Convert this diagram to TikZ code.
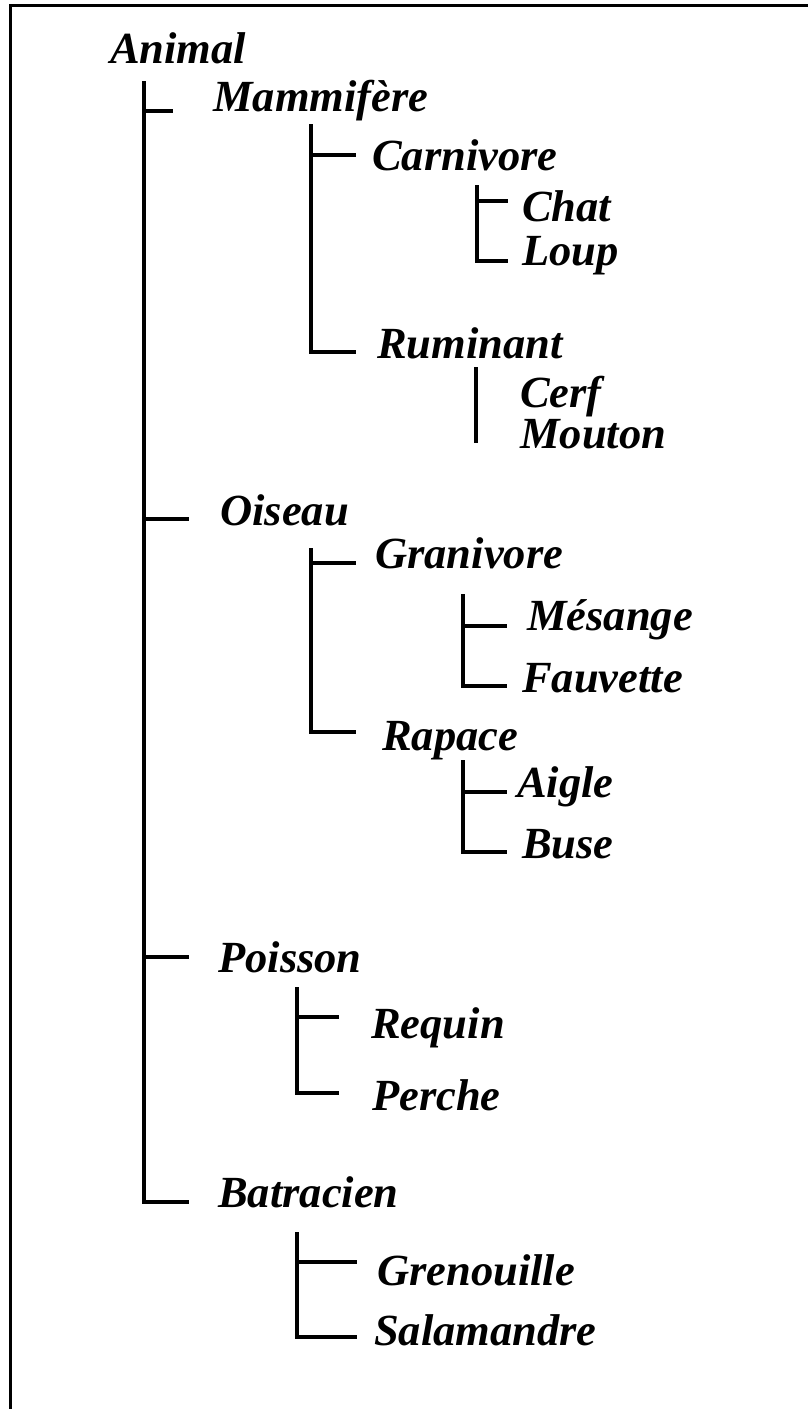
\documentclass[tikz,border=0pt]{standalone}
\usepackage{fontspec}
\setmainfont{Liberation Serif}
\begin{document}
\begin{tikzpicture}[x=1pt,y=-1pt,
  lbl/.style={anchor=base west,inner sep=0pt,font=\fontsize{44.5}{50}\selectfont\bfseries\itshape},
  tree/.style={line width=3.2pt,line cap=butt,line join=miter},
  frame/.style={line width=3.5pt}]
\useasboundingbox (0,0) rectangle (808,1409);
% frame (top and left)
\coordinate (fTR) at (808,5.5);
\coordinate (fTL) at (10.5,5.5);
\coordinate (fBL) at (10.5,1409);
\draw[frame] (fTR) -- (fTL) -- (fBL);

% labels
\node[lbl] (animal) at (110,63) {Animal};
\node[lbl] (mam) at (213,111) {Mammifère};
\node[lbl] (carn) at (372,170) {Carnivore};
\node[lbl] (chat) at (522,221) {Chat};
\node[lbl] (loup) at (522,265) {Loup};
\node[lbl] (rum) at (377,358) {Ruminant};
\node[lbl] (cerf) at (520,407) {Cerf};
\node[lbl] (mouton) at (520,448) {Mouton};
\node[lbl] (ois) at (220,525) {Oiseau};
\node[lbl] (gran) at (375,568) {Granivore};
\node[lbl] (mes) at (527,630) {Mésange};
\node[lbl] (fauv) at (522,692) {Fauvette};
\node[lbl] (rap) at (382,750) {Rapace};
\node[lbl] (aigle) at (517,797) {Aigle};
\node[lbl] (buse) at (522,858) {Buse};
\node[lbl] (poiss) at (218,972) {Poisson};
\node[lbl] (req) at (371,1038) {Requin};
\node[lbl] (perche) at (372,1110) {Perche};
\node[lbl] (batr) at (218,1207) {Batracien};
\node[lbl] (gren) at (377,1285) {Grenouille};
\node[lbl] (sal) at (374,1345) {Salamandre};

% tree coordinates
\coordinate (aTop) at (144,81);
\coordinate (tMam) at (173,111);
\coordinate (tOis) at (189,519);
\coordinate (tPoi) at (189,957);
\coordinate (tBat) at (189,1202);

\coordinate (mTop) at (311,124);
\coordinate (tCarn) at (356,155);
\coordinate (tRum) at (356,352);

\coordinate (cTop) at (477,185);
\coordinate (tChat) at (508,201);
\coordinate (tLoup) at (508,261);

\coordinate (rTop) at (476,367);
\coordinate (rBot) at (476,443);

\coordinate (oTop) at (311,548);
\coordinate (tGran) at (356,563);
\coordinate (tRap) at (356,732);

\coordinate (gTop) at (463,594);
\coordinate (tMes) at (507,626);
\coordinate (tFauv) at (507,686);

\coordinate (raTop) at (463,760);
\coordinate (tAigle) at (507,792);
\coordinate (tBuse) at (507,852);

\coordinate (pTop) at (297,987);
\coordinate (tReq) at (339,1017);
\coordinate (tPerche) at (339,1093);

\coordinate (bTop) at (297,1232);
\coordinate (tGren) at (357,1262);
\coordinate (tSal) at (357,1337);

% connectors
\draw[tree] (aTop) |- (tBat);
\draw[tree] (aTop |- tMam) -- (tMam);
\draw[tree] (aTop |- tOis) -- (tOis);
\draw[tree] (aTop |- tPoi) -- (tPoi);

\draw[tree] (mTop) |- (tRum);
\draw[tree] (mTop |- tCarn) -- (tCarn);

\draw[tree] (cTop) |- (tLoup);
\draw[tree] (cTop |- tChat) -- (tChat);

\draw[tree] (rTop) -- (rBot);

\draw[tree] (oTop) |- (tRap);
\draw[tree] (oTop |- tGran) -- (tGran);

\draw[tree] (gTop) |- (tFauv);
\draw[tree] (gTop |- tMes) -- (tMes);

\draw[tree] (raTop) |- (tBuse);
\draw[tree] (raTop |- tAigle) -- (tAigle);

\draw[tree] (pTop) |- (tPerche);
\draw[tree] (pTop |- tReq) -- (tReq);

\draw[tree] (bTop) |- (tSal);
\draw[tree] (bTop |- tGren) -- (tGren);
\end{tikzpicture}
\end{document}
